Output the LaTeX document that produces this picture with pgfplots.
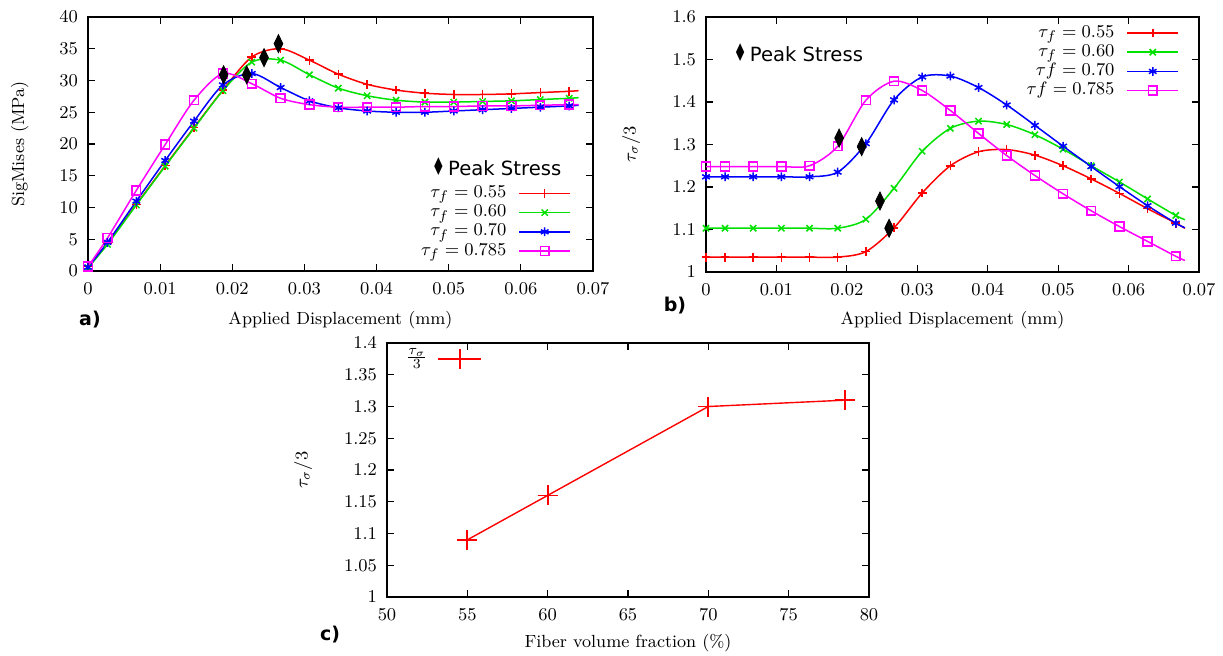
\documentclass[border=0pt]{standalone}
\usepackage{pgfplots}
\usepackage{pgfplotstable}
\pgfplotsset{compat=1.18}
\usepackage{fontspec}
\newfontfamily\dejavu{DejaVu Sans}
\definecolor{gred}{RGB}{255,0,0}
\definecolor{ggreen}{RGB}{0,225,0}
\definecolor{gblue}{RGB}{0,0,255}
\definecolor{gmag}{RGB}{255,0,255}

% Panel a
\pgfplotstableread{
x y
0 0.7
0.0027 4.4
0.0067 10.5
0.0107 16.6
0.0147 22.6
0.0187 28.5
0.0227 33.7
0.0267 35.0
0.0307 33.2
0.0347 31.0
0.0387 29.4
0.0427 28.5
0.0467 28.0
0.0507 27.8
0.0547 27.8
0.0587 27.9
0.0627 28.1
0.0667 28.3
0.068 28.4
}\aRed
\pgfplotstableread{
x y
0 0.5
0.0027 4.2
0.0067 10.4
0.0107 16.5
0.0147 22.5
0.0187 28.4
0.0227 32.9
0.0267 33.2
0.0307 30.9
0.0347 28.8
0.0387 27.6
0.0427 26.9
0.0467 26.6
0.0507 26.6
0.0547 26.7
0.0587 26.8
0.0627 27.0
0.0667 27.2
0.068 27.3
}\aGreen
\pgfplotstableread{
x y
0 0.6
0.0027 4.5
0.0067 11.0
0.0107 17.4
0.0147 23.6
0.0187 29.3
0.0227 31.1
0.0267 28.9
0.0307 26.8
0.0347 25.7
0.0387 25.2
0.0427 25.0
0.0467 25.0
0.0507 25.2
0.0547 25.4
0.0587 25.6
0.0627 25.8
0.0667 26.0
0.068 26.1
}\aBlue
\pgfplotstableread{
x y
0 0.7
0.0027 5.2
0.0067 12.7
0.0107 19.9
0.0147 26.9
0.0187 31.1
0.0227 29.5
0.0267 27.2
0.0307 26.2
0.0347 25.8
0.0387 25.8
0.0427 25.8
0.0467 25.9
0.0507 25.9
0.0547 26.0
0.0587 26.0
0.0627 26.1
0.0667 26.2
0.068 26.2
}\aMag
\pgfplotstableread{
x y
0.0188 30.9
0.0220 30.9
0.0244 33.6
0.0264 35.8
}\aPeak

% Panel b
\pgfplotstableread{
x y
0 1.035
0.0027 1.035
0.0067 1.035
0.0107 1.035
0.0147 1.035
0.0187 1.035
0.0227 1.048
0.0267 1.104
0.0307 1.186
0.0347 1.250
0.0387 1.283
0.0427 1.288
0.0467 1.275
0.0507 1.250
0.0547 1.219
0.0587 1.185
0.0627 1.149
0.0667 1.115
0.068 1.103
}\bRed
\pgfplotstableread{
x y
0 1.103
0.0027 1.103
0.0067 1.103
0.0107 1.103
0.0147 1.103
0.0187 1.103
0.0227 1.124
0.0267 1.197
0.0307 1.284
0.0347 1.338
0.0387 1.355
0.0427 1.347
0.0467 1.323
0.0507 1.289
0.0547 1.250
0.0587 1.212
0.0627 1.172
0.0667 1.133
0.068 1.123
}\bGreen
\pgfplotstableread{
x y
0 1.224
0.0027 1.224
0.0067 1.224
0.0107 1.224
0.0147 1.224
0.0187 1.235
0.0227 1.302
0.0267 1.405
0.0307 1.459
0.0347 1.461
0.0387 1.434
0.0427 1.393
0.0467 1.345
0.0507 1.296
0.0547 1.248
0.0587 1.201
0.0627 1.156
0.0667 1.115
0.068 1.104
}\bBlue
\pgfplotstableread{
x y
0 1.248
0.0027 1.248
0.0067 1.248
0.0107 1.248
0.0147 1.250
0.0187 1.296
0.0227 1.404
0.0267 1.449
0.0307 1.427
0.0347 1.380
0.0387 1.326
0.0427 1.274
0.0467 1.227
0.0507 1.184
0.0547 1.144
0.0587 1.107
0.0627 1.072
0.0667 1.037
0.068 1.027
}\bMag
\pgfplotstableread{
x y
0.0189 1.315
0.0221 1.295
0.0247 1.167
0.0260 1.103
}\bPeak

% Panel c
\pgfplotstableread{
x y
55 1.09
60 1.16
70 1.30
78.5 1.31
}\cData

\pgfplotsset{
  gp/.style={
    scale only axis,
    axis line style={line width=0.7pt},
    every tick/.style={line width=0.6pt, black},
    major tick length=3.5pt,
    tick align=inside,
    tick label style={font=\fontsize{8.8}{10}\selectfont},
    label style={font=\fontsize{8.8}{10}\selectfont},
    xticklabel style={yshift=-2.5pt},
    yticklabel style={xshift=-1.5pt},
    scaled ticks=false,
    /pgf/number format/fixed,
    /pgf/number format/precision=2,
    legend style={draw=none, fill=none, inner sep=0pt, outer sep=0pt,
      column sep=6pt, row sep=0.6pt,
      font=\fontsize{9.5}{10}\selectfont,
      nodes={inner sep=0pt, text height=6.5pt, text depth=2.5pt}},
    legend cell align=right,
    legend plot pos=right,
    legend image code/.code={
      \draw[##1, mark=none, line width=0.75pt] (0pt,0pt) -- (25.5pt,0pt);
      \draw[##1, line width=0.75pt] plot coordinates {(12.75pt,0pt)};
    },
  },
  crv/.style={smooth, line width=0.75pt, forget plot},
  mk/.style={only marks, line width=0.75pt, skip coords between index={18}{19}},
  pk/.style={only marks, mark=diamond*, mark size=4.5pt, forget plot,
    mark options={xscale=0.65, fill=black, draw=black}},
}

\begin{document}
\begin{tikzpicture}
\path[use as bounding box] (0,0) rectangle (611.5pt,327.5pt);

% ---------------- Panel a ----------------
\begin{axis}[gp,
  at={(44pt,192pt)}, anchor=south west,
  width=252.5pt, height=127pt,
  xmin=0, xmax=0.07, ymin=0, ymax=40,
  xtick={0,0.01,...,0.07}, ytick={0,5,...,40},
  xlabel={Applied Displacement (mm)},
  ylabel={SigMises (MPa)},
  xlabel style={at={(axis description cs:0.5,-0.193)}, anchor=center},
  ylabel style={at={(axis description cs:-0.135,0.5)}, anchor=center},
  legend style={at={(rel axis cs:1,0)}, anchor=south east, xshift=-11pt, yshift=5.5pt},
]
\addplot[crv, gred] table {\aRed};
\addplot[mk, gred, mark=+, mark size=2.2pt] table {\aRed};
\addlegendentry{$\tau_f = 0.55$}
\addplot[crv, ggreen] table {\aGreen};
\addplot[mk, ggreen, mark=x, mark size=2.2pt] table {\aGreen};
\addlegendentry{$\tau_f = 0.60$}
\addplot[crv, gblue] table {\aBlue};
\addplot[mk, gblue, mark=asterisk, mark size=2.2pt] table {\aBlue};
\addlegendentry{$\tau_f = 0.70$}
\addplot[crv, gmag] table {\aMag};
\addplot[mk, gmag, mark=square, mark size=2.2pt] table {\aMag};
\addlegendentry{$\tau_f = 0.785$}
\addplot[pk] table {\aPeak};
\node[anchor=west, inner sep=0pt, font=\dejavu\fontsize{9.8}{10}\selectfont]
  at (rel axis cs:0.68,0.41) {\scalebox{0.75}[1.25]{♦}\,Peak Stress};
\end{axis}

% ---------------- Panel b ----------------
\begin{axis}[gp,
  at={(353pt,191.5pt)}, anchor=south west,
  width=246.5pt, height=127.5pt,
  xmin=0, xmax=0.07, ymin=1, ymax=1.6,
  xtick={0,0.01,...,0.07}, ytick={1,1.1,...,1.6},
  xlabel={Applied Displacement (mm)},
  ylabel={$\tau_\sigma/3$},
  xlabel style={at={(axis description cs:0.5,-0.188)}, anchor=center},
  ylabel style={at={(axis description cs:-0.152,0.5)}, anchor=center},
  legend style={at={(rel axis cs:1,1)}, anchor=north east, xshift=-10pt, yshift=-3.5pt},
]
\addplot[crv, gred] table {\bRed};
\addplot[mk, gred, mark=+, mark size=2.2pt] table {\bRed};
\addlegendentry{$\tau_f = 0.55$}
\addplot[crv, ggreen] table {\bGreen};
\addplot[mk, ggreen, mark=x, mark size=2.2pt] table {\bGreen};
\addlegendentry{$\tau_f = 0.60$}
\addplot[crv, gblue] table {\bBlue};
\addplot[mk, gblue, mark=asterisk, mark size=2.2pt] table {\bBlue};
\addlegendentry{$\tau f = 0.70$}
\addplot[crv, gmag] table {\bMag};
\addplot[mk, gmag, mark=square, mark size=2.2pt] table {\bMag};
\addlegendentry{$\tau f = 0.785$}
\addplot[pk] table {\bPeak};
\node[anchor=west, inner sep=0pt, font=\dejavu\fontsize{9.8}{10}\selectfont]
  at (rel axis cs:0.055,0.86) {\scalebox{0.75}[1.25]{♦}\,Peak Stress};
\end{axis}

% ---------------- Panel c ----------------
\begin{axis}[gp,
  at={(193.5pt,29pt)}, anchor=south west,
  width=241pt, height=127pt,
  xmin=50, xmax=80, ymin=1, ymax=1.4,
  xtick={50,55,...,80}, ytick={1,1.05,...,1.4},
  xlabel={Fiber volume fraction (\%)},
  ylabel={$\tau_\sigma/3$},
  xlabel style={at={(axis description cs:0.5,-0.181)}, anchor=center},
  ylabel style={at={(axis description cs:-0.174,0.5)}, anchor=center},
  legend style={at={(rel axis cs:0,1)}, anchor=north west, xshift=9.5pt, yshift=-2.5pt,
    column sep=5pt,
    nodes={inner sep=0pt, text height=7pt, text depth=4pt}},
  legend image code/.code={
      \draw[#1, mark=none] (0pt,0pt) -- (21.5pt,0pt);
      \draw[#1] plot coordinates {(11pt,0pt)};
  },
]
\addplot[gred, line width=0.7pt, mark=+, mark size=5pt, mark options={line width=0.9pt}] table {\cData};
\addlegendentry{$\frac{\tau_\sigma}{3}$}
\end{axis}

% panel tags
\node[font=\dejavu\bfseries\fontsize{9.5}{10}\selectfont] at (45pt,167.5pt) {a)};
\node[font=\dejavu\bfseries\fontsize{9.5}{10}\selectfont] at (337.5pt,174.5pt) {b)};
\node[font=\dejavu\bfseries\fontsize{9.5}{10}\selectfont] at (165pt,10pt) {c)};
\end{tikzpicture}
\end{document}
